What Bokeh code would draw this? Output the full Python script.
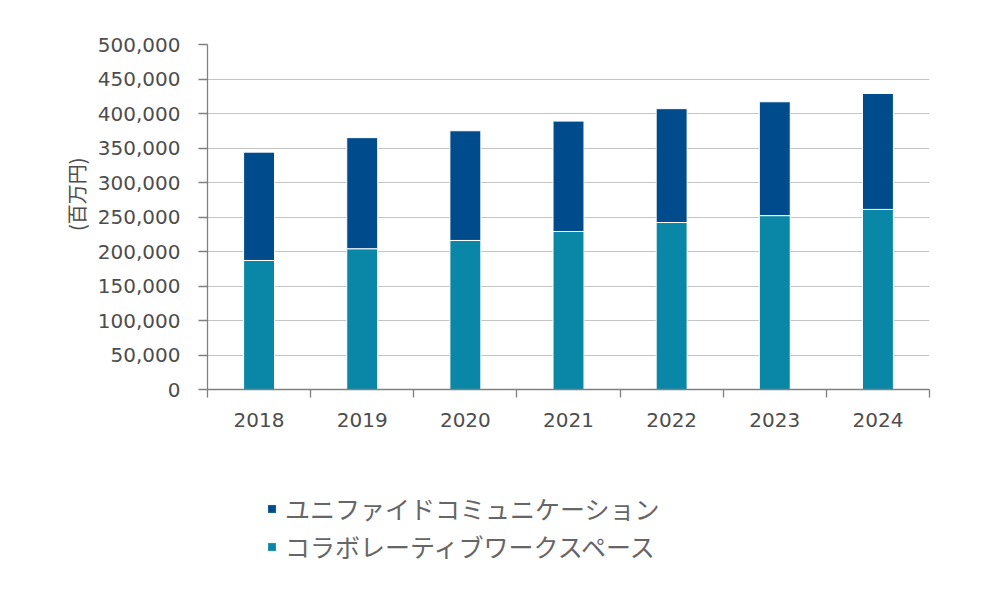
from bokeh.plotting import figure
from bokeh.layouts import column
from bokeh.models import (Range1d, FixedTicker, NumeralTickFormatter, Legend,
                          LegendItem, ColumnDataSource, Title)
from bokeh.embed import file_html
from bokeh.resources import INLINE

years = ["2018", "2019", "2020", "2021", "2022", "2023", "2024"]
collab = [187000, 204000, 216000, 229000, 242000, 252000, 261000]
unified = [157000, 161000, 159000, 160000, 165000, 165000, 168000]
series_names = ["コラボレーティブワークスペース", "ユニファイドコミュニケーション"]
colors = ["#0A87A7", "#004B8B"]
y_ticks = list(range(0, 500001, 50000))
y_title = "(百万円)"

xpos = [i + 0.5 for i in range(len(years))]
src = ColumnDataSource(dict(x=xpos, collab=collab, unified=unified))

p = figure(frame_width=722, frame_height=345,
           min_border_left=207, min_border_right=55,
           min_border_top=44, min_border_bottom=60,
           x_range=Range1d(0, len(years)), y_range=Range1d(0, 500000),
           output_backend="svg", toolbar_location=None)
p.outline_line_color = None
p.background_fill_color = "white"
p.border_fill_color = "white"

rs = p.vbar_stack(["collab", "unified"], x="x", width=0.3, color=colors,
                  line_color="white", line_width=1, source=src)

# grid
p.xgrid.grid_line_color = None
p.ygrid.grid_line_color = "#c4c4c4"
p.ygrid.grid_line_width = 1.2

num_font = "DejaVu Sans"
axis_col = "#808080"
lab_col = "#4d4d4d"

# y axis
p.yaxis.ticker = FixedTicker(ticks=y_ticks)
p.yaxis.formatter = NumeralTickFormatter(format="0,0")
p.yaxis.axis_line_color = axis_col
p.yaxis.axis_line_width = 1.3
p.yaxis.major_tick_line_color = axis_col
p.yaxis.major_tick_line_width = 1.3
p.yaxis.major_tick_out = 9
p.yaxis.major_tick_in = 0
p.yaxis.minor_tick_line_color = None
p.yaxis.major_label_standoff = 18
p.yaxis.major_label_text_font = num_font
p.yaxis.major_label_text_font_size = "20px"
p.yaxis.major_label_text_color = lab_col

# y axis title (placed above the centre, as in the reference)
ytitle = Title(text=y_title, align="right", offset=113, standoff=8,
               text_font="Noto Sans CJK JP", text_font_size="20px",
               text_font_style="normal", text_color=lab_col)
p.add_layout(ytitle, "left")

# x axis
p.xaxis.ticker = FixedTicker(ticks=xpos, minor_ticks=list(range(len(years) + 1)))
p.xaxis.major_label_overrides = {x: y for x, y in zip(xpos, years)}
p.xaxis.axis_line_color = axis_col
p.xaxis.axis_line_width = 1.3
p.xaxis.major_tick_line_color = None
p.xaxis.major_tick_out = 0
p.xaxis.major_tick_in = 0
p.xaxis.minor_tick_line_color = axis_col
p.xaxis.minor_tick_line_width = 1.3
p.xaxis.minor_tick_out = 8
p.xaxis.minor_tick_in = 0
p.xaxis.major_label_standoff = 15
p.xaxis.major_label_text_font = num_font
p.xaxis.major_label_text_font_size = "20px"
p.xaxis.major_label_text_color = lab_col

# legend panel (separate strip below the chart, same data renderers kept out of view)
pl = figure(width=984, height=130, min_border=0,
            x_range=Range1d(0, len(years)), y_range=Range1d(600000, 700000),
            x_axis_type=None, y_axis_type=None,
            output_backend="svg", toolbar_location=None)
pl.outline_line_color = None
pl.grid.grid_line_color = None
pl.background_fill_alpha = 0
pl.border_fill_alpha = 0
lrs = pl.vbar_stack(["collab", "unified"], x="x", width=0.3, color=colors,
                    line_color="white", line_width=1, source=src)

legend = Legend(items=[LegendItem(label=series_names[1], renderers=[lrs[1]]),
                       LegendItem(label=series_names[0], renderers=[lrs[0]])],
                location=(59, 15), orientation="vertical",
                glyph_width=11, glyph_height=11, label_standoff=8,
                label_height=30,
                label_text_font="Noto Sans CJK JP", label_text_font_size="25px",
                label_text_color="#666666", padding=0, margin=0, spacing=2,
                border_line_color=None, background_fill_alpha=0)
pl.add_layout(legend, "center")

layout = column(p, pl, spacing=0)
open("out.html", "w").write(file_html(layout, INLINE))
